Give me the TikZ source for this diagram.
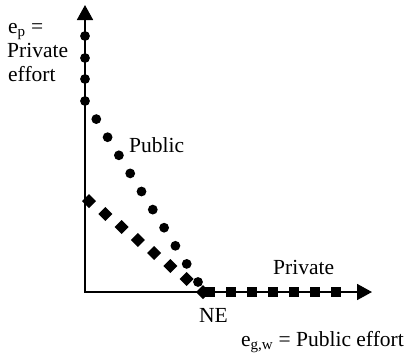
\documentclass[tikz,border=0pt]{standalone}
\usepackage{fontspec}
\setmainfont{Liberation Serif}
\usetikzlibrary{arrows.meta,calc}

\begin{document}
\begin{tikzpicture}[x=1pt,y=-1pt,
  axis/.style={line width=1.8pt,
    {Triangle[length=15pt,width=16pt]}-{Triangle[length=15pt,width=16pt]}},
  lbl/.style={font=\fontsize{21.5}{25}\selectfont,inner sep=0pt,anchor=base west},
  dotmark/.style={fill=black},
  diamark/.style={fill=black},
  sqmark/.style={fill=black}]

  % canvas
  \useasboundingbox (0,0) rectangle (407,354);

  % axes
  \coordinate (O) at (85,292);
  \coordinate (ytip) at (85,5);
  \coordinate (xtip) at (372,292);
  \draw[axis] (ytip) -- (O) -- (xtip);

  % Public: dots down the vertical axis, then along the diagonal to NE
  \coordinate (pk) at (85,101);
  \coordinate (pe) at (198,282);
  \foreach \yy in {36,58,79}
    \fill[dotmark] (85,\yy) circle (4.9pt);
  \foreach \i in {0,...,10}
    \fill[dotmark] ($(pk)!\i/10!(pe)$) circle (4.9pt);

  % diamond path
  \coordinate (da) at (89,201);
  \coordinate (db) at (203,292);
  \foreach \i in {0,...,7}
    \fill[diamark] ($(da)!\i/7!(db)$) ++(0,-7) -- ++(7,7) -- ++(-7,7) -- ++(-7,-7) -- cycle;

  % Private: squares along the horizontal axis
  \foreach \i in {0,...,6}
    \fill[sqmark] ({210+21*\i},292) +(-4.6,-4.6) rectangle +(4.6,4.6);

  % labels
  \node[lbl] (ep)   at (8,33)  {e\textsubscript{p} =};
  \node[lbl] (pv)   at (7,57)  {Private};
  \node[lbl] (ef)   at (8,81)  {effort};
  \node[lbl] (pub)  at (129,152) {Public};
  \node[lbl] (priv) at (273,274) {Private};
  \node[lbl] (ne)   at (199,322) {NE};
  \node[lbl,anchor=base east] (eg) at (404,346) {e\textsubscript{g,w} = Public effort};
\end{tikzpicture}
\end{document}
